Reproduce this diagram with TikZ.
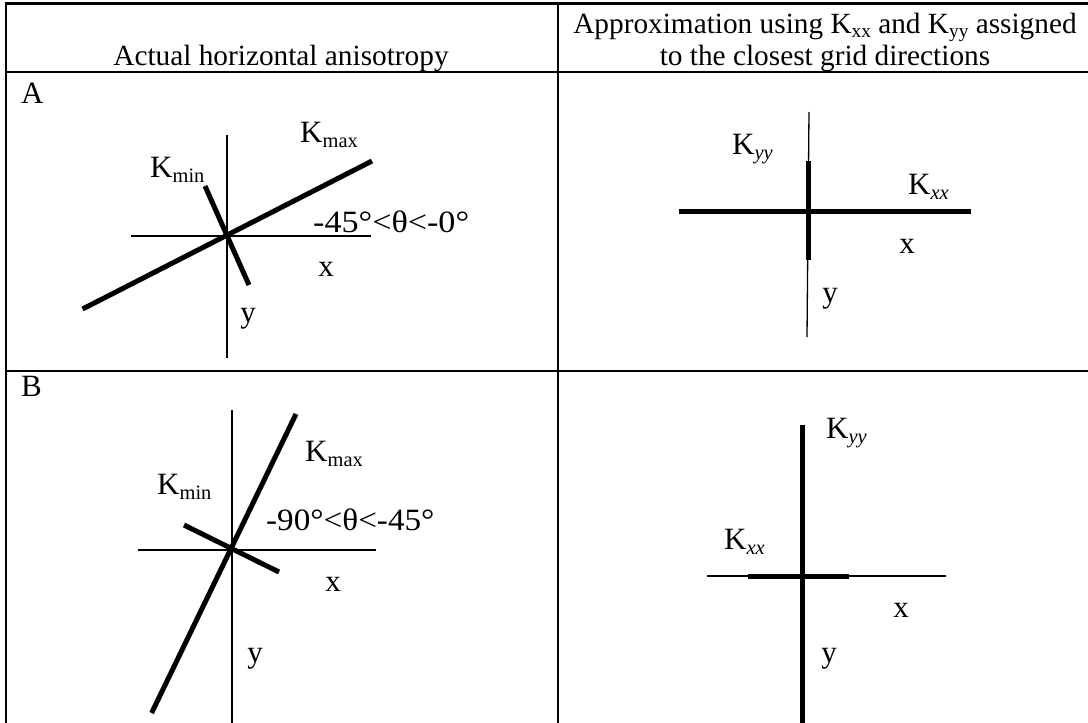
\documentclass[tikz,border=0pt]{standalone}
\usepackage{fontspec}
\setmainfont{Liberation Serif}
\newcommand\lsub[1]{\raisebox{-0.17em}{\fontsize{0.66em}{0.66em}\selectfont #1}}
\begin{document}
\begin{tikzpicture}[x=1pt,y=-1pt,
  rule/.style={line width=2.2pt},
  axis/.style={line width=1.3pt},
  kline/.style={line width=5pt},
  lbl/.style={inner sep=0pt,anchor=base west,font=\fontsize{31}{31}\selectfont},
  clbl/.style={inner sep=0pt,anchor=base,font=\fontsize{31}{31}\selectfont},
  hlbl/.style={inner sep=0pt,anchor=base,font=\fontsize{29.3}{29.3}\selectfont}]
\useasboundingbox (0,0) rectangle (1088,723);
% table rules
\draw[rule] (5,3.5) -- (1088,3.5);
\draw[rule] (5,72) -- (1088,72);
\draw[rule] (5,371) -- (1088,371);
\draw[rule] (6,3) -- (6,723);
\draw[rule] (558,3) -- (558,723);
% header
\node[hlbl] (h1) at (281,65) {Actual horizontal anisotropy};
\node[hlbl] (h2a) at (825,33) {Approximation using K\lsub{xx} and K\lsub{yy} assigned};
\node[hlbl] (h2b) at (825,65) {to the closest grid directions};
% Panel A left
\node[lbl] (la) at (21,103) {A};
\coordinate (oa) at (227,235.5);
\draw[axis] (227,135) -- (227,358);
\draw[axis] (131,236) -- (371,236);
\draw[kline] (82.6,309) -- (372,161);
\draw[kline] (205,186) -- (249,285);
\node[lbl] (kmina) at (150,177) {K\lsub{min}};
\node[lbl] (kmaxa) at (300,142) {K\lsub{max}};
\node[lbl] (tha) at (313,232) {\scalebox{1.1}[1]{-45°<θ<-0°}};
\node[clbl] (xa) at (326,276) {x};
\node[clbl] (ya) at (248,322) {y};
% Panel A right
\draw[axis] (809,112) -- (807,337);
\draw[kline] (808,161) -- (808,260);
\draw[kline] (679,211) -- (971,211);
\node[lbl] (kyya) at (732,154) {K\lsub{\itshape yy}};
\node[lbl] (kxxa) at (908,194) {K\lsub{\itshape xx}};
\node[clbl] (xar) at (907,253) {x};
\node[clbl] (yar) at (830,302) {y};
% Panel B left
\node[lbl] (lb) at (21,396) {B};
\draw[axis] (232,410) -- (232,723);
\draw[axis] (138,550) -- (376,550);
\draw[kline] (296,414) -- (151.6,713);
\draw[kline] (184,525) -- (279,572);
\node[lbl] (kminb) at (157,494) {K\lsub{min}};
\node[lbl] (kmaxb) at (305,461) {K\lsub{max}};
\node[lbl] (thb) at (266,530) {\scalebox{1.07}[1]{-90°<θ<-45°}};
\node[clbl] (xb) at (333,591) {x};
\node[clbl] (yb) at (255,662) {y};
% Panel B right
\draw[axis] (707,576) -- (946,576);
\draw[kline] (802.5,425) -- (802.5,723);
\draw[kline] (748,576) -- (849,576);
\node[lbl] (kyyb) at (826,438) {K\lsub{\itshape yy}};
\node[lbl] (kxxb) at (724,549) {K\lsub{\itshape xx}};
\node[clbl] (xbr) at (901,617) {x};
\node[clbl] (ybr) at (829,662) {y};
\end{tikzpicture}
\end{document}
